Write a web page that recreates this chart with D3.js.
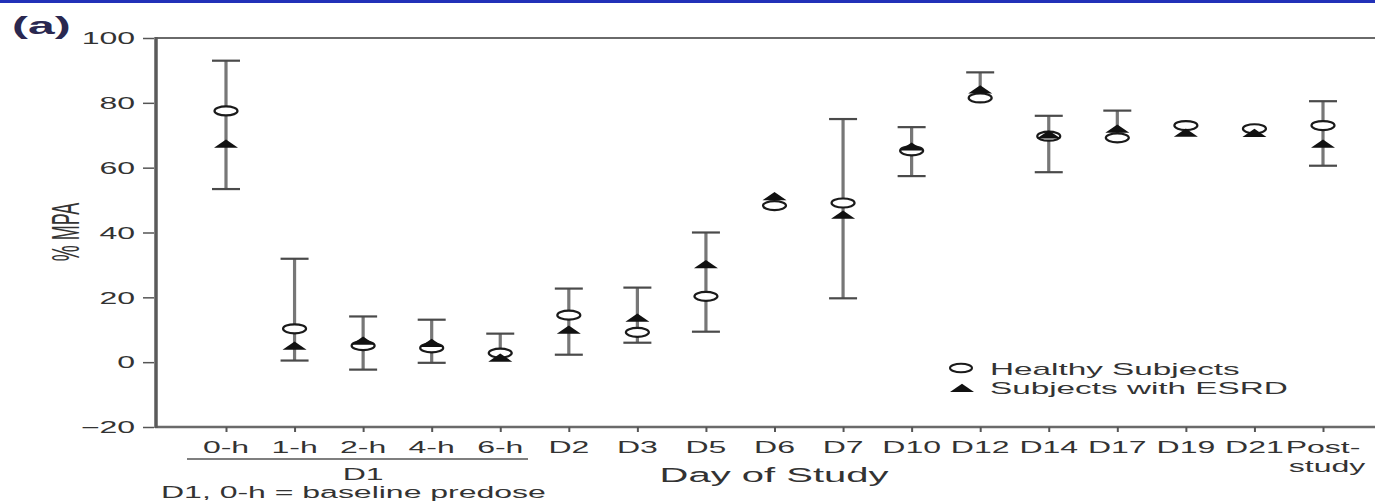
<!DOCTYPE html>
<html>
<head>
<meta charset="utf-8">
<script src="https://cdn.jsdelivr.net/npm/d3@7"></script>
<style>
  html, body { margin: 0; padding: 0; background: #fff; }
  svg { display: block; }
  text { font-family: "Liberation Sans", Arial, sans-serif; fill: #2a2a2a; }
</style>
</head>
<body>
<svg id="chart" width="1375" height="502"></svg>
<script>
// ---- data ----
const categories = ["0-h","1-h","2-h","4-h","6-h","D2","D3","D5","D6","D7","D10","D12","D14","D17","D19","D21","Post-study"];
const healthy    = [77.5, 10.3, 5.1, 4.4, 2.8, 14.5, 9.2, 20.3, 48.3, 49.1, 65.2, 81.5, 69.7, 69.2, 73.0, 72.0, 73.0];
const esrd       = [67.4, 5.1, 6.6, 5.9, 1.4, 10.0, 13.7, 30.2, 51.2, 45.5, 66.5, 84.1, 70.2, 72.0, 70.8, 70.7, 67.4];
const errHigh    = [93.0, 31.9, 14.1, 13.1, 8.8, 22.7, 23.0, 40.0, null, 75.0, 72.5, 89.4, 76.0, 77.6, null, null, 80.5];
const errLow     = [53.4, 0.5, -2.3, -0.2, null, 2.3, 6.0, 9.4, null, 19.7, 57.4, null, 58.6, null, null, null, 60.6];
const yTicks     = [-20, 0, 20, 40, 60, 80, 100];
const seriesNames = ["Healthy Subjects", "Subjects with ESRD"];

// ---- layout ----
const SX = 2.0; // horizontal stretch of the reference picture's text
const svg = d3.select("#chart");
const plotL = 155, plotR = 1375, plotT = 38, plotB = 427;

const x = d3.scalePoint().domain(categories).range([226, 1323]);
const y = d3.scaleLinear().domain([-20, 100]).range([plotB, plotT]);

function sText(g, px, py, str, opts = {}) {
  return g.append("text")
    .attr("transform", `translate(${px},${py}) scale(${opts.sx || SX},1)`)
    .attr("text-anchor", opts.anchor || "start")
    .style("font-size", (opts.size || 16) + "px")
    .style("font-weight", opts.weight || "normal")
    .style("fill", opts.fill || "#333")
    .text(str);
}

// top blue band
svg.append("rect").attr("x", 0).attr("y", 0).attr("width", 1375).attr("height", 3).attr("fill", "#2231b8");

// frame lines
svg.append("line").attr("x1", plotL).attr("x2", plotR).attr("y1", plotT).attr("y2", plotT)
  .attr("stroke", "#6a6a6a").attr("stroke-width", 2);
svg.append("line").attr("x1", plotL).attr("x2", plotR).attr("y1", plotB).attr("y2", plotB)
  .attr("stroke", "#6a6a6a").attr("stroke-width", 2.5);
svg.append("line").attr("x1", plotL + 1).attr("x2", plotL + 1).attr("y1", plotT - 1).attr("y2", plotB + 1)
  .attr("stroke", "#5a5a5a").attr("stroke-width", 3.5);

// y axis
const yAxis = svg.append("g").attr("transform", `translate(${plotL - 1},0)`)
  .call(d3.axisLeft(y).tickValues(yTicks).tickSize(11).tickSizeOuter(0)
    .tickFormat(d => d < 0 ? "\u2212" + Math.abs(d) : String(d)));
yAxis.select(".domain").remove();
yAxis.selectAll(".tick line").attr("stroke", "#555").attr("stroke-width", 1.5);
yAxis.selectAll(".tick text")
  .attr("x", -9.5).attr("dy", "0.36em")
  .attr("transform", `scale(${SX},1)`)
  .style("font-size", "16px").style("fill", "#333")
  .attr("font-family", null);

// x axis
const xAxis = svg.append("g").attr("transform", `translate(0,${plotB})`)
  .call(d3.axisBottom(x).tickSize(5).tickSizeOuter(0).tickFormat(""));
xAxis.select(".domain").remove();
xAxis.selectAll(".tick line").attr("stroke", "#555").attr("stroke-width", 2);

categories.forEach(c => {
  if (c === "Post-study") {
    sText(svg, x(c), 453, "Post-", { anchor: "middle" });
    sText(svg, x(c) + 4, 472, "study", { anchor: "middle" });
  } else {
    sText(svg, x(c), 453, c, { anchor: "middle" });
  }
});

// D1 grouping
svg.append("line").attr("x1", 187).attr("x2", 528).attr("y1", 459).attr("y2", 459)
  .attr("stroke", "#555").attr("stroke-width", 1.5);
sText(svg, (x("0-h") + x("6-h")) / 2, 480, "D1", { anchor: "middle" });

// axis titles
sText(svg, 774, 482, "Day of Study", { anchor: "middle", size: 20 });
sText(svg, 161, 498, "D1, 0-h = baseline predose", { size: 16 });
svg.append("text")
  .attr("transform", `translate(79,232) scale(2.2,1) rotate(-90)`)
  .attr("text-anchor", "middle")
  .style("font-size", "18px").style("fill", "#333")
  .text("% MPA");
sText(svg, 12, 34, "(a)", { size: 24, weight: "bold", fill: "#2a2850", sx: 2.0 })
  .style("font-family", "'Liberation Sans', 'DejaVu Sans', sans-serif");

// ---- marks ----
const capHalf = 14;
const eb = svg.append("g");
categories.forEach((c, i) => {
  const hi = errHigh[i], lo = errLow[i];
  if (hi === null && lo === null) return;
  const topV = hi !== null ? hi : Math.max(healthy[i], esrd[i]);
  const botV = lo !== null ? lo : Math.min(healthy[i], esrd[i]);
  eb.append("line").attr("x1", x(c)).attr("x2", x(c)).attr("y1", y(topV)).attr("y2", y(botV))
    .attr("stroke", "#777").attr("stroke-width", 3.2);
  [hi, lo].forEach(v => {
    if (v === null) return;
    eb.append("line").attr("x1", x(c) - capHalf).attr("x2", x(c) + capHalf)
      .attr("y1", y(v)).attr("y2", y(v)).attr("stroke", "#4a4a4a").attr("stroke-width", 2.2);
  });
});

svg.append("g").selectAll("ellipse").data(categories).join("ellipse")
  .attr("cx", d => x(d)).attr("cy", (d, i) => y(healthy[i]))
  .attr("rx", 11.5).attr("ry", 4.5)
  .attr("fill", "#fff").attr("stroke", "#1a1a1a").attr("stroke-width", 2.2);

const tri = "M0,-4.2L12,4L-12,4Z";
svg.append("g").selectAll("path").data(categories).join("path")
  .attr("d", tri)
  .attr("transform", (d, i) => `translate(${x(d)},${y(esrd[i])})`)
  .attr("fill", "#111");

// ---- legend ----
const lg = svg.append("g");
lg.append("ellipse").attr("cx", 961).attr("cy", 368).attr("rx", 11).attr("ry", 4.3)
  .attr("fill", "#fff").attr("stroke", "#1a1a1a").attr("stroke-width", 2);
sText(lg, 990, 375, seriesNames[0], { sx: 2.08 });
lg.append("path").attr("d", tri).attr("transform", "translate(962,388)").attr("fill", "#111");
sText(lg, 990, 394, seriesNames[1], { sx: 2.08 });
</script>
</body>
</html>
